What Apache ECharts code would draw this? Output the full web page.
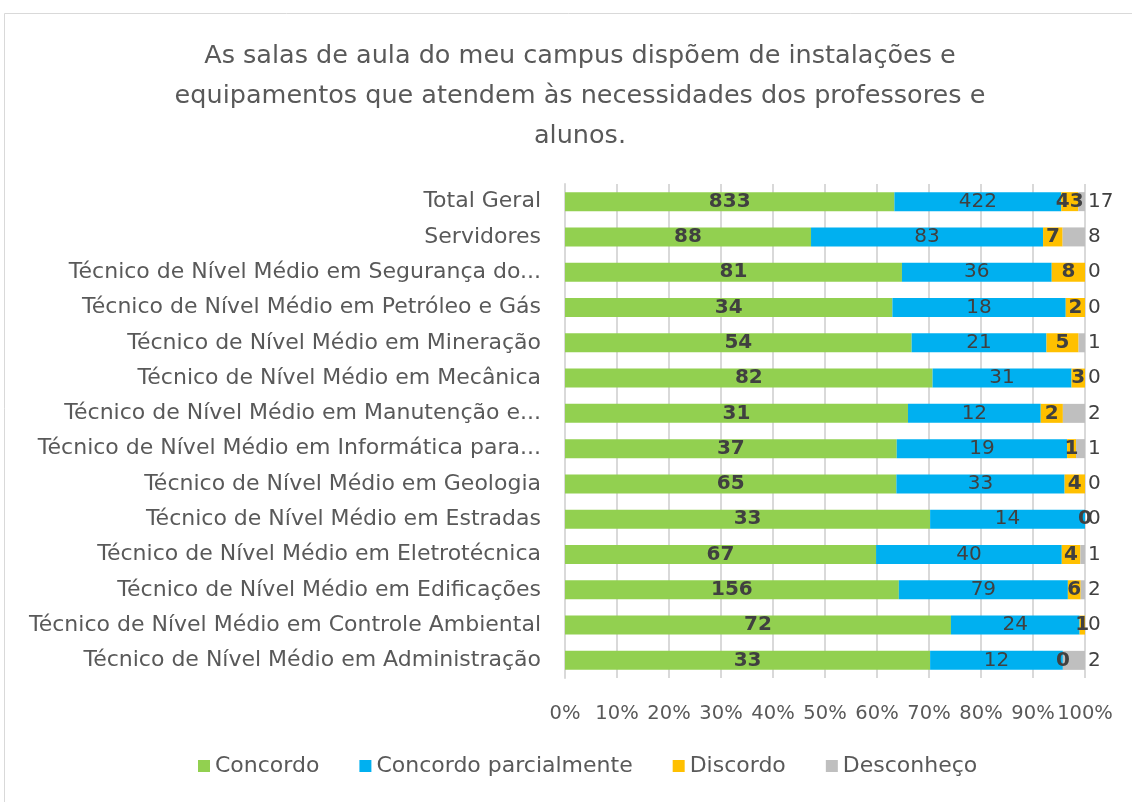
<!DOCTYPE html>
<html>
<head>
<meta charset="utf-8">
<script src="https://cdn.jsdelivr.net/npm/echarts@6/dist/echarts.min.js"></script>
<style>
html,body{margin:0;padding:0;background:#fff;}
#chart{width:1132px;height:802px;}
</style>
</head>
<body>
<div id="chart"></div>
<script>
var categorias = [
    'Técnico de Nível Médio em Administração',
    'Técnico de Nível Médio em Controle Ambiental',
    'Técnico de Nível Médio em Edificações',
    'Técnico de Nível Médio em Eletrotécnica',
    'Técnico de Nível Médio em Estradas',
    'Técnico de Nível Médio em Geologia',
    'Técnico de Nível Médio em Informática para...',
    'Técnico de Nível Médio em Manutenção e...',
    'Técnico de Nível Médio em Mecânica',
    'Técnico de Nível Médio em Mineração',
    'Técnico de Nível Médio em Petróleo e Gás',
    'Técnico de Nível Médio em Segurança do...',
    'Servidores',
    'Total Geral'
];
var concordo     = [33, 72, 156, 67, 33, 65, 37, 31, 82, 54, 34, 81, 88, 833];
var parcialmente = [12, 24, 79, 40, 14, 33, 19, 12, 31, 21, 18, 36, 83, 422];
var discordo     = [0, 1, 6, 4, 0, 4, 1, 2, 3, 5, 2, 8, 7, 43];
var desconheco   = [2, 0, 2, 1, 0, 0, 1, 2, 0, 1, 0, 0, 8, 17];
var ticks = ['0%', '10%', '20%', '30%', '40%', '50%', '60%', '70%', '80%', '90%', '100%'];

var nomes = ['Concordo', 'Concordo parcialmente', 'Discordo', 'Desconheço'];
var cores = ['#92D050', '#00B0F0', '#FFC000', '#BFBFBF'];
var dados = [concordo, parcialmente, discordo, desconheco];

var totais = [];
for (var i = 0; i < categorias.length; i++) {
    totais.push(concordo[i] + parcialmente[i] + discordo[i] + desconheco[i]);
}

var fonte = 'DejaVu Sans';
var series = [];
for (var s = 0; s < dados.length; s++) {
    var lista = [];
    for (var i = 0; i < categorias.length; i++) {
        lista.push({value: dados[s][i] / totais[i] * 100, raw: dados[s][i]});
    }
    series.push({
        name: nomes[s],
        type: 'bar',
        stack: 'total',
        barWidth: 19,
        itemStyle: {color: cores[s]},
        label: {
            show: true,
            position: s == 3 ? 'right' : 'inside',
            distance: 3,
            color: '#404040',
            fontFamily: fonte,
            fontSize: 20,
            fontWeight: (s == 0 || s == 2) ? 'bold' : 'normal',
            formatter: function (p) { return p.data.raw; }
        },
        data: lista
    });
}

var chart = echarts.init(document.getElementById('chart'));
chart.setOption({
    backgroundColor: '#fff',
    animation: false,
    title: {
        text: 'As salas de aula do meu campus dispõem de instalações e\nequipamentos que atendem às necessidades dos professores e\nalunos.',
        left: 575,
        textAlign: 'center',
        top: 31,
        textStyle: {
            fontFamily: fonte,
            fontWeight: 'normal',
            fontSize: 25.5,
            lineHeight: 40,
            color: '#595959'
        }
    },
    graphic: [{
        type: 'rect',
        shape: {x: 4.5, y: 13.5, width: 1140, height: 800},
        style: {fill: 'none', stroke: '#D9D9D9', lineWidth: 1}
    }],
    legend: {
        bottom: 20,
        left: 193,
        itemWidth: 12,
        itemHeight: 12,
        itemGap: 40,
        icon: 'rect',
        textStyle: {fontFamily: fonte, fontSize: 22, color: '#595959'},
        data: nomes
    },
    grid: {left: 565, right: 47, top: 184, bottom: 124},
    xAxis: {
        type: 'value',
        min: 0,
        max: 100,
        interval: 10,
        axisLine: {show: false},
        axisTick: {show: false},
        splitLine: {lineStyle: {color: '#D9D9D9', width: 2}},
        axisLabel: {
            margin: 26,
            fontFamily: fonte,
            fontSize: 19.5,
            color: '#595959',
            formatter: function (v) { return ticks[Math.round(v / 10)]; }
        }
    },
    yAxis: {
        type: 'category',
        data: categorias,
        axisLine: {lineStyle: {color: '#D9D9D9', width: 2}},
        axisTick: {show: false},
        axisLabel: {
            margin: 24,
            fontFamily: fonte,
            fontSize: 22,
            color: '#595959'
        }
    },
    series: series
});
</script>
</body>
</html>
